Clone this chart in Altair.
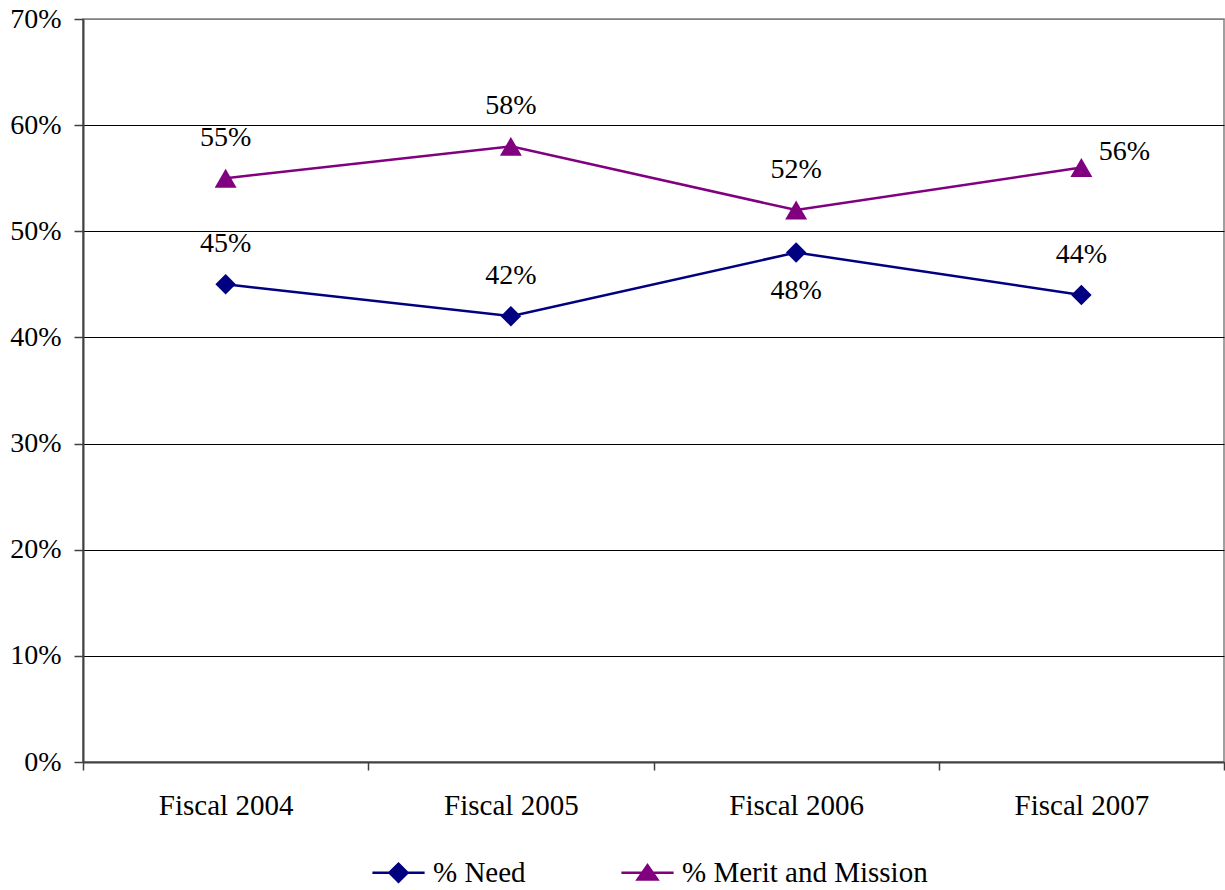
import altair as alt
import pandas as pd

# Share of awards by basis, fiscal years 2004-2007
years = ["Fiscal 2004", "Fiscal 2005", "Fiscal 2006", "Fiscal 2007"]
need = [0.45, 0.42, 0.48, 0.44]
merit = [0.55, 0.58, 0.52, 0.56]
series_names = ["% Need", "% Merit and Mission"]
series_colors = ["#000080", "#800080"]
y_ticks = [0, 0.1, 0.2, 0.3, 0.4, 0.5, 0.6, 0.7]

rows = []
for name, vals in zip(series_names, [need, merit]):
    for yr, v in zip(years, vals):
        rows.append({"year": yr, "series": name, "share": v})
df = pd.DataFrame(rows)

FONT = "Liberation Serif"
FS = 28

# legend symbols: a short line with the series marker on it
need_sym = "M-2.9,0H2.9M-1,0L0,-1L1,0L0,1Z"
merit_sym = "M-2.9,0H2.9M0,-0.85L1.1,0.75L-1.1,0.75Z"

legend = alt.Legend(
    title=None,
    orient="none",
    direction="horizontal",
    legendX=301,
    legendY=839,
    labelFont=FONT,
    labelFontSize=29,
    labelColor="black",
    labelLimit=0,
    symbolSize=324,
    symbolStrokeWidth=2.5,
    symbolOpacity=1,
    labelOffset=20,
    columnPadding=90,
)

color_scale = alt.Scale(domain=series_names, range=series_colors)

x_enc = alt.X(
    "year:N",
    sort=years,
    scale=alt.Scale(type="band", paddingInner=0, paddingOuter=0),
    axis=alt.Axis(
        title=None,
        labelAngle=0,
        tickBand="extent",
        grid=False,
        labelFont=FONT,
        labelFontSize=29,
        labelColor="black",
        labelPadding=21,
        tickSize=8,
        tickColor="#404040",
        tickWidth=1.5,
        domainColor="#404040",
        domainWidth=2,
    ),
)
y_enc = alt.Y(
    "share:Q",
    scale=alt.Scale(domain=[0, 0.7], nice=False, zero=True),
    axis=alt.Axis(
        title=None,
        values=y_ticks,
        format=".0%",
        labelFont=FONT,
        labelFontSize=FS,
        labelColor="black",
        labelPadding=13,
        tickSize=9,
        tickColor="#404040",
        tickWidth=1.5,
        domainColor="#404040",
        domainWidth=2,
        gridColor=alt.condition("datum.value >= 0.69", alt.value("#808080"), alt.value("black")),
        gridWidth=1,
    ),
)

base = alt.Chart(df).encode(x=x_enc, y=y_enc)


def series_layers(name, color, shape, size):
    rows_of = base.transform_filter(alt.datum.series == name)
    line = rows_of.mark_line(strokeWidth=2.5, color=color)
    pts = rows_of.mark_point(filled=True, opacity=1, shape=shape, size=size, color=color)
    return [line, pts]


need_layers = series_layers(series_names[0], series_colors[0], "diamond", 420)
merit_layers = series_layers(series_names[1], series_colors[1], "triangle-up", 480)

# legend-only layer: no rows reach the marks, the scales carry the entries
legend_layer = (
    alt.Chart(df)
    .mark_point(filled=True, opacity=1, strokeWidth=2.5)
    .encode(
        color=alt.Color("series:N", sort=series_names, scale=color_scale, legend=legend),
        stroke=alt.Stroke("series:N", sort=series_names, scale=color_scale, legend=legend),
        shape=alt.Shape(
            "series:N",
            sort=series_names,
            scale=alt.Scale(domain=series_names, range=[need_sym, merit_sym]),
            legend=legend,
        ),
    )
    .transform_filter("false")
)

below_test = "datum.series === '% Need' && datum.year === 'Fiscal 2006'"
right_test = "datum.series === '% Merit and Mission' && datum.year === 'Fiscal 2007'"

text_base = base.encode(text=alt.Text("share:Q", format=".0%"))

labels_above = text_base.mark_text(
    font=FONT, fontSize=FS, baseline="middle", dy=-40, color="black"
).transform_filter(f"!({below_test}) && !({right_test})")

labels_below = text_base.mark_text(
    font=FONT, fontSize=FS, baseline="middle", dy=38, color="black"
).transform_filter(below_test)

labels_right = text_base.mark_text(
    font=FONT, fontSize=FS, baseline="middle", dx=43, dy=-16, color="black"
).transform_filter(right_test)

chart = (
    alt.layer(
        *need_layers, *merit_layers,
        labels_above, labels_below, labels_right, legend_layer,
    )
    .properties(
        width=1141,
        height=743,
        autosize=alt.AutoSizeParams(type="none"),
        padding={"left": 83, "top": 19, "right": 1, "bottom": 128},
        background="white",
    )
    .configure_view(stroke="#808080", strokeWidth=1.5)
)

chart.save("out.html", embed_options={"renderer": "svg", "actions": False})
